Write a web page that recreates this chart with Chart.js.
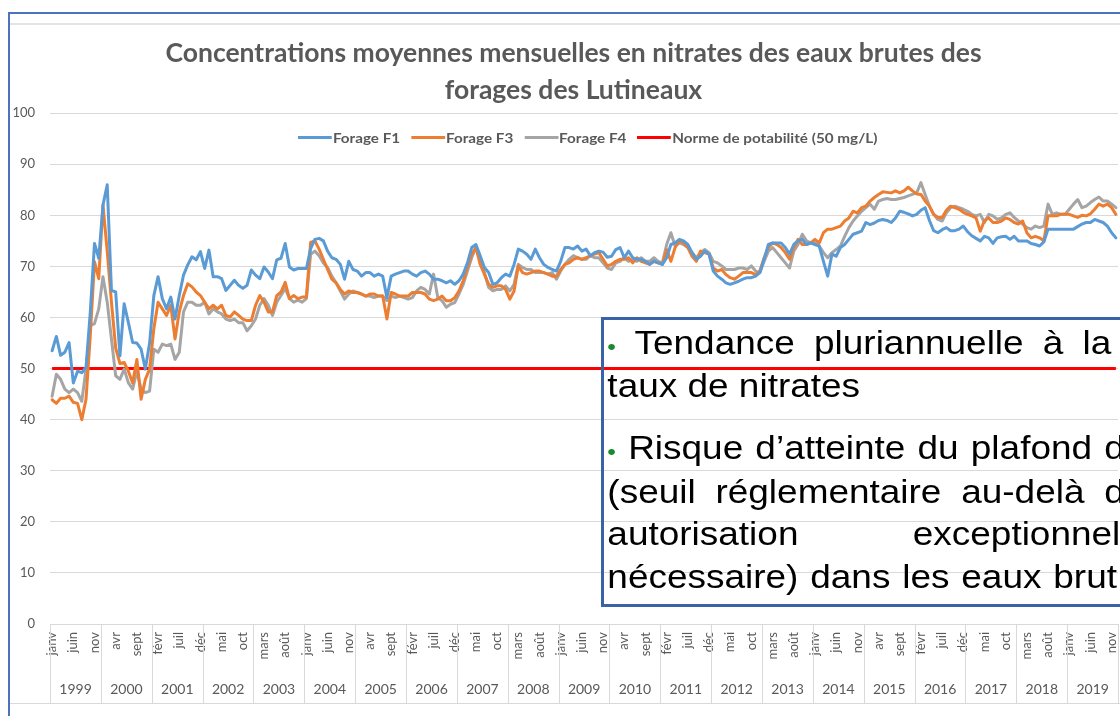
<!DOCTYPE html>
<html lang="fr">
<head>
<meta charset="utf-8">
<script src="https://cdn.jsdelivr.net/npm/chart.js@4"></script>
<style>
  html, body { margin: 0; padding: 0; background: #fff; overflow: hidden; width: 1120px; height: 716px; }
  #frame { position: absolute; left: 8px; top: 12px; width: 1200px; height: 800px;
           border-left: 2px solid #4a74bd; border-top: 2px solid #4a74bd; }
  #chartBox { position: absolute; left: 10px; top: 23px; width: 1130px; height: 678px;
              border-top: 2px solid #e4e4e4; border-bottom: 1px solid #d9d9d9; }
  #legend { position: absolute; left: 298px; top: 129px; display: flex; gap: 10px;
            transform: scaleX(1.09); transform-origin: left center;
            font-family: Lato, "Open Sans", sans-serif; font-size: 14px; font-weight: bold; color: #595959; }
  #legend .item { display: flex; align-items: center; white-space: nowrap; }
  #legend .sw { width: 31px; height: 3px; margin-right: 1px; }
  #note { position: absolute; left: 601px; top: 317px; width: 600px; height: 284px;
          border: 3px solid #3a62a6; }
  #note .txt { position: absolute; left: 0; top: 0; width: 540px; height: 284px;
               transform: scaleX(1.12); transform-origin: left top;
               font-family: "Liberation Sans", Arial, sans-serif; font-size: 33px; color: #000; }
  #note .l { position: absolute; left: 3px; white-space: nowrap; line-height: 43px; }
  #note .j { text-align: justify; text-align-last: justify; }
  #note .b { color: #1a8a2e; font-size: 22px; }
</style>
</head>
<body>
<div id="frame"></div>
<div id="chartBox"><canvas id="nitrates"></canvas></div>
<div id="legend"></div>
<div id="note"><div class="txt">
  <div class="l j" style="top:1px; width:450px;"><span class="b">•</span> Tendance pluriannuelle à la</div>
  <div class="l" style="top:44px;">taux de nitrates</div>
  <div class="l j" style="top:106px; width:462px;"><span class="b">•</span> Risque d’atteinte du plafond d</div>
  <div class="l j" style="top:150px; width:462px;">(seuil réglementaire au-delà d</div>
  <div class="l j" style="top:192px; width:458px;">autorisation exceptionnel</div>
  <div class="l j" style="top:235px; width:455px;">nécessaire) dans les eaux brut</div>
</div></div>
<script>
// Axis categories
const years = [1999, 2000, 2001, 2002, 2003, 2004, 2005, 2006, 2007, 2008, 2009,
  2010, 2011, 2012, 2013, 2014, 2015, 2016, 2017, 2018, 2019];
const months = ['janv', 'févr', 'mars', 'avr', 'mai', 'juin', 'juil', 'août', 'sept', 'oct', 'nov', 'déc'];

// Monthly mean nitrate concentrations (mg/L), janv 1999 -> déc 2019
const forageF1 = [
  53.5, 56.3, 52.6, 53.2, 55.1, 47.2, 49.5, 49.2, 50.2, 61, 74.5, 71.6,
  82, 86, 65.3, 65, 52.5, 62.7, 59, 55.1, 55, 53.8, 49.9, 55,
  64.3, 68, 63.7, 61.7, 64, 59.7, 64.3, 68.3, 70.3, 71.9, 71.3, 72.9,
  69.6, 73.2, 68, 68, 67.6, 65.3, 66.3, 67.3, 66.3, 65.7, 66.3, 69.3,
  68.3, 67.6, 69.9, 68.9, 67.6, 71.3, 71.6, 74.5, 69.9, 69.3, 69.6, 69.6,
  69.6, 73.5, 75.3, 75.5, 75, 73, 71.7, 71.4, 70.4, 67.5, 71, 69.4,
  69.1, 68.1, 68.8, 68.8, 68.1, 68.5, 68.1, 63.9, 68.1, 68.5, 68.8, 69.1,
  69.1, 68.5, 68.1, 68.8, 69.1, 68.5, 67.5, 67.5, 67.2, 66.8, 67.2, 66.5,
  67.2, 68.5, 70.7, 73.7, 74.3, 72.1, 69.8, 68.8, 66.5, 66.8, 67.8, 68.5,
  68.1, 70.4, 73.4, 73, 72.4, 71.4, 73.4, 71.7, 70.4, 69.8, 69.4, 69.1,
  71, 73.7, 73.7, 73.4, 74, 73, 73.4, 72.1, 72.7, 73, 72.8, 71.8,
  72, 73.3, 73.7, 71.7, 73, 71.7, 71.4, 71.4, 71, 70.4, 71, 70.7,
  70.4, 71.7, 74.3, 74.6, 75.3, 75, 74.3, 72.7, 71.4, 72, 73, 72.4,
  69.1, 68.1, 67.5, 66.8, 66.5, 66.8, 67.1, 67.5, 67.8, 67.8, 68.1, 68.8,
  71.4, 74.3, 74.6, 74.6, 74.6, 73.7, 72.4, 74.3, 75, 75.3, 74.3, 74.6,
  74.3, 74, 71, 68.1, 72.4, 72, 73.7, 74.3, 75.3, 76.3, 76.6, 76.9,
  78.6, 78.2, 78.5, 79, 79.2, 79, 78.6, 79.5, 80.8, 80.6, 80.3, 79.9,
  80.2, 81, 81.5, 79, 77, 76.6, 77.2, 77.6, 77, 77, 77.3, 77.9,
  76.8, 76, 75.5, 75, 75.9, 75.6, 74.5, 75.6, 75.8, 75.9, 75.3, 75.9,
  75, 75, 75, 74.5, 74.3, 74, 74.8, 77.3, 77.3, 77.3, 77.3, 77.3,
  77.3, 77.3, 77.8, 78.3, 78.6, 78.6, 79.2, 78.9, 78.6, 77.9, 76.6, 75.6
];
const forageF3 = [
  43.9, 43.2, 44.2, 44.2, 44.6, 43.4, 43.2, 40, 44, 56.4, 70.9, 67.6,
  82, 73, 63, 54, 51, 51.2, 49.5, 47.2, 51.8, 44, 47.9, 49.9,
  57.8, 63, 61.7, 60.4, 62.4, 55.8, 61.1, 64.3, 66.6, 66, 65, 64.3,
  63, 61.7, 62.4, 61.7, 62.4, 60.4, 60.1, 61.1, 60.4, 59.7, 59.4, 59.4,
  62.4, 64.3, 63, 61.1, 61.1, 64.3, 65, 66.9, 63.7, 64.3, 63.7, 64,
  64, 74.7, 75, 73.4, 71.4, 69.4, 67.5, 66.8, 65.5, 64.6, 65.2, 64.9,
  64.9, 64.6, 64.2, 64.6, 64.6, 64.2, 64.2, 59.7, 64.9, 64.6, 64.2, 64.2,
  64.2, 64.9, 64.9, 64.9, 64.6, 63.6, 63.3, 63.6, 64.2, 63.3, 63.3, 63.9,
  65.2, 67.2, 69.8, 72.4, 73.7, 70.4, 68.5, 66.5, 65.9, 66.2, 66.2, 65.5,
  63.6, 65.2, 70.1, 68.8, 68.5, 68.8, 69.1, 69.1, 68.8, 68.5, 68.1, 68.1,
  69.4, 70.4, 70.7, 71.4, 71.7, 71.4, 71.7, 72.1, 72.4, 72.7, 71.4, 70.1,
  70.4, 71, 71.4, 71.4, 71.7, 70.7, 71.7, 71, 70.7, 70.4, 71, 70.7,
  70.4, 73.3, 71, 73.7, 75, 74.6, 73.7, 72, 71, 73, 72.7, 72.4,
  69.7, 69.1, 69.4, 68.4, 67.8, 67.5, 68.1, 68.8, 68.8, 68.8, 68.4, 69.1,
  71.7, 73.7, 74.6, 74.3, 73.7, 72.7, 71.4, 73.7, 75.3, 74.3, 74.3, 74.6,
  75.3, 74.6, 76.6, 77.3, 77.3, 77.6, 77.9, 78.9, 79.5, 80.8, 80.5, 81.5,
  81.8, 82.8, 83.5, 84.1, 84.6, 84.5, 84.4, 84.8, 84.4, 84.8, 85.5, 84.8,
  84.2, 84.1, 82.8, 81.8, 80.2, 79.6, 79.6, 81, 81.8, 81.5, 81.2, 80.6,
  80.2, 79.9, 79.5, 76.9, 79, 79.5, 78.6, 78.6, 78.9, 79.5, 79.2, 78.6,
  78.3, 78.9, 76.6, 75.6, 75.9, 75.6, 75, 79.9, 79.9, 79.9, 80.2, 80.2,
  80.2, 79.9, 79.6, 80, 79.9, 80.3, 81.2, 82.2, 81.8, 82.2, 81.5, 80.2
];
const forageF4 = [
  44.6, 48.9, 47.9, 46, 45.3, 46, 45.3, 43.6, 49.9, 58.4, 58.8, 61.7,
  68, 63, 55.8, 48.6, 47.9, 49.9, 47.2, 46, 49.5, 46, 45.3, 45.6,
  53.8, 53.2, 54.8, 54.5, 54.8, 51.8, 53.2, 61.1, 63, 63, 62.4, 62.4,
  63, 60.7, 61.7, 61.1, 60.7, 59.7, 59.4, 59.7, 59, 59, 57.4, 58.4,
  59.7, 62.4, 63.7, 62.4, 60.4, 63, 64.3, 65.7, 63.7, 63, 63.4, 63,
  63.7, 72.4, 73, 72.1, 70.7, 69.8, 68.1, 66.8, 65.2, 63.6, 64.6, 65.2,
  64.9, 64.6, 64.2, 64.2, 63.9, 64.2, 64.2, 63.3, 64.2, 63.9, 64.2, 63.9,
  63.6, 63.9, 65.2, 65.9, 65.5, 64.6, 68.5, 63.9, 63.3, 62, 62.6, 62.9,
  64.6, 66.5, 69.1, 71.7, 73.7, 71, 68.8, 65.9, 65.2, 65.5, 65.5, 66.2,
  65.2, 66.5, 70.4, 69.8, 69.4, 69.4, 68.8, 68.8, 68.8, 68.5, 68.8, 67.5,
  69.1, 70.4, 71.4, 72.1, 71.7, 71.4, 71.4, 72.1, 71.7, 71.7, 70.7, 69.7,
  69.4, 70.7, 71, 71.7, 71, 71.4, 71, 71.7, 71, 71, 71.7, 71,
  70.7, 74.3, 76.6, 74, 74.6, 74.3, 73.7, 72.7, 71.7, 72.7, 73.3, 72.7,
  71, 70.7, 70.1, 69.4, 69.4, 69.4, 69.7, 69.7, 69.4, 70.1, 69.1, 68.8,
  71, 73, 73.7, 72.7, 71.7, 70.7, 69.7, 73, 74.3, 76.3, 75, 74.6,
  74.6, 74, 72.7, 71.7, 72.7, 73.3, 74, 75.9, 77.6, 78.9, 79.9, 80.8,
  81.5, 82.2, 81.2, 82.8, 83.1, 83.3, 83.1, 83.1, 83.3, 83.5, 83.8, 84.1,
  84.4, 86.4, 84.1, 81.8, 80.2, 79.2, 78.9, 80.5, 81.5, 81.8, 81.5, 81.2,
  80.8, 80.2, 79.9, 80.2, 78.6, 80.2, 79.9, 79.2, 79.5, 80.2, 80.5, 79.6,
  78.9, 78.3, 77.6, 77.3, 77.9, 77.6, 77.9, 82.2, 80.2, 80.5, 80.2, 80.2,
  81.2, 82.2, 83.1, 81.5, 81.8, 82.5, 83.1, 83.6, 82.8, 82.8, 82.2, 81.5
];
const normeValue = 50; // potability limit, mg/L

// One category per month
const labels = [];
for (const y of years) {
  for (const m of months) {
    labels.push(m + ' ' + y);
  }
}

const textColor = '#595959';
const gridColor = '#d9d9d9';
const chartFont = 'Lato, "Open Sans", sans-serif';

// Vertical separators between years, below the plot
const yearSeparators = {
  id: 'yearSeparators',
  afterLayout(chart) {
    // let the y labels use the left margin instead of being clipped
    chart.scales.y.left = 0;
  },
  afterDraw(chart) {
    const x = chart.scales.x;
    const x2 = chart.scales.x2;
    const c = chart.ctx;
    const half = (x.getPixelForValue(1) - x.getPixelForValue(0)) / 2;
    c.save();
    c.strokeStyle = gridColor;
    c.lineWidth = 1;
    for (let i = 0; i <= labels.length; i += 12) {
      const px = i < labels.length ? x.getPixelForValue(i) - half : x.getPixelForValue(i - 1) + half;
      c.beginPath();
      c.moveTo(Math.round(px) + 0.5, x.top);
      c.lineTo(Math.round(px) + 0.5, x2.bottom);
      c.stroke();
    }
    c.restore();
  }
};

function lineSet(label, data, color) {
  return {
    label: label,
    data: data,
    borderColor: color,
    backgroundColor: color,
    borderWidth: 3,
    pointRadius: 0,
    tension: 0,
    borderJoinStyle: 'round',
    borderCapStyle: 'round'
  };
}

// no side padding for the category axes, so the plot spans the full width
function noSidePadding(scale) {
  scale.paddingLeft = 0;
  scale.paddingRight = 0;
}

const ctx = document.getElementById('nitrates').getContext('2d');
const chart = new Chart(ctx, {
  type: 'line',
  data: {
    labels: labels,
    datasets: [
      lineSet('Forage F1', forageF1, '#5b9bd5'),
      lineSet('Forage F3', forageF3, '#ed7d31'),
      lineSet('Forage F4', forageF4, '#a5a5a5'),
      Object.assign(lineSet('Norme de potabilité (50 mg/L)',
        [{ x: labels[0], y: normeValue }, { x: labels[labels.length - 1], y: normeValue }],
        '#ff0000'), { borderCapStyle: 'butt' })
    ]
  },
  options: {
    responsive: true,
    maintainAspectRatio: false,
    animation: false,
    layout: { padding: { left: 19, right: 22, top: 0, bottom: 0 } },
    plugins: {
      title: {
        display: true,
        text: ['Concentrations moyennes mensuelles en nitrates des eaux brutes des', 'forages des Lutineaux'],
        color: textColor,
        font: { family: chartFont, size: 26.5, weight: 'bold', lineHeight: 1.4 },
        padding: { top: 10, bottom: 4 }
      },
      legend: { display: false },
      tooltip: { enabled: false }
    },
    scales: {
      x: {
        type: 'category',
        position: 'bottom',
        weight: 0,
        offset: true,
        grid: { display: true, drawOnChartArea: false, drawTicks: false, offset: true },
        border: { display: true, color: gridColor },
        ticks: {
          autoSkip: false,
          minRotation: 90,
          maxRotation: 90,
          padding: 8,
          color: textColor,
          font: { family: chartFont, size: 13 },
          callback: function (value, index) {
            return index % 5 === 0 ? months[index % 12] : '';
          }
        },
        afterFit: function (scale) { scale.height = 42; noSidePadding(scale); }
      },
      x2: {
        type: 'category',
        position: 'bottom',
        weight: 1,
        offset: true,
        grid: { display: false, drawTicks: false },
        border: { display: false },
        ticks: {
          autoSkip: false,
          maxRotation: 0,
          minRotation: 0,
          padding: 15,
          labelOffset: -2,
          color: textColor,
          font: { family: chartFont, size: 14 },
          callback: function (value, index) {
            return index % 12 === 6 ? String(years[Math.floor(index / 12)]) : '';
          }
        },
        afterFit: function (scale) { scale.height = 37; noSidePadding(scale); }
      },
      y: {
        min: 0,
        max: 100,
        grid: { color: gridColor, drawTicks: false },
        border: { display: false },
        ticks: {
          stepSize: 10,
          padding: 15,
          color: textColor,
          font: { family: chartFont, size: 13 }
        },
        afterFit: function (scale) { scale.width = 21; }
      }
    }
  },
  plugins: [yearSeparators]
});

// Legend drawn as HTML so it can sit inside the plot, as in the original
const legendBox = document.getElementById('legend');
Chart.defaults.plugins.legend.labels.generateLabels(chart).forEach(function (item) {
  const el = document.createElement('span');
  el.className = 'item';
  const sw = document.createElement('span');
  sw.className = 'sw';
  sw.style.background = item.strokeStyle;
  el.appendChild(sw);
  el.appendChild(document.createTextNode(item.text));
  legendBox.appendChild(el);
});
</script>
</body>
</html>
